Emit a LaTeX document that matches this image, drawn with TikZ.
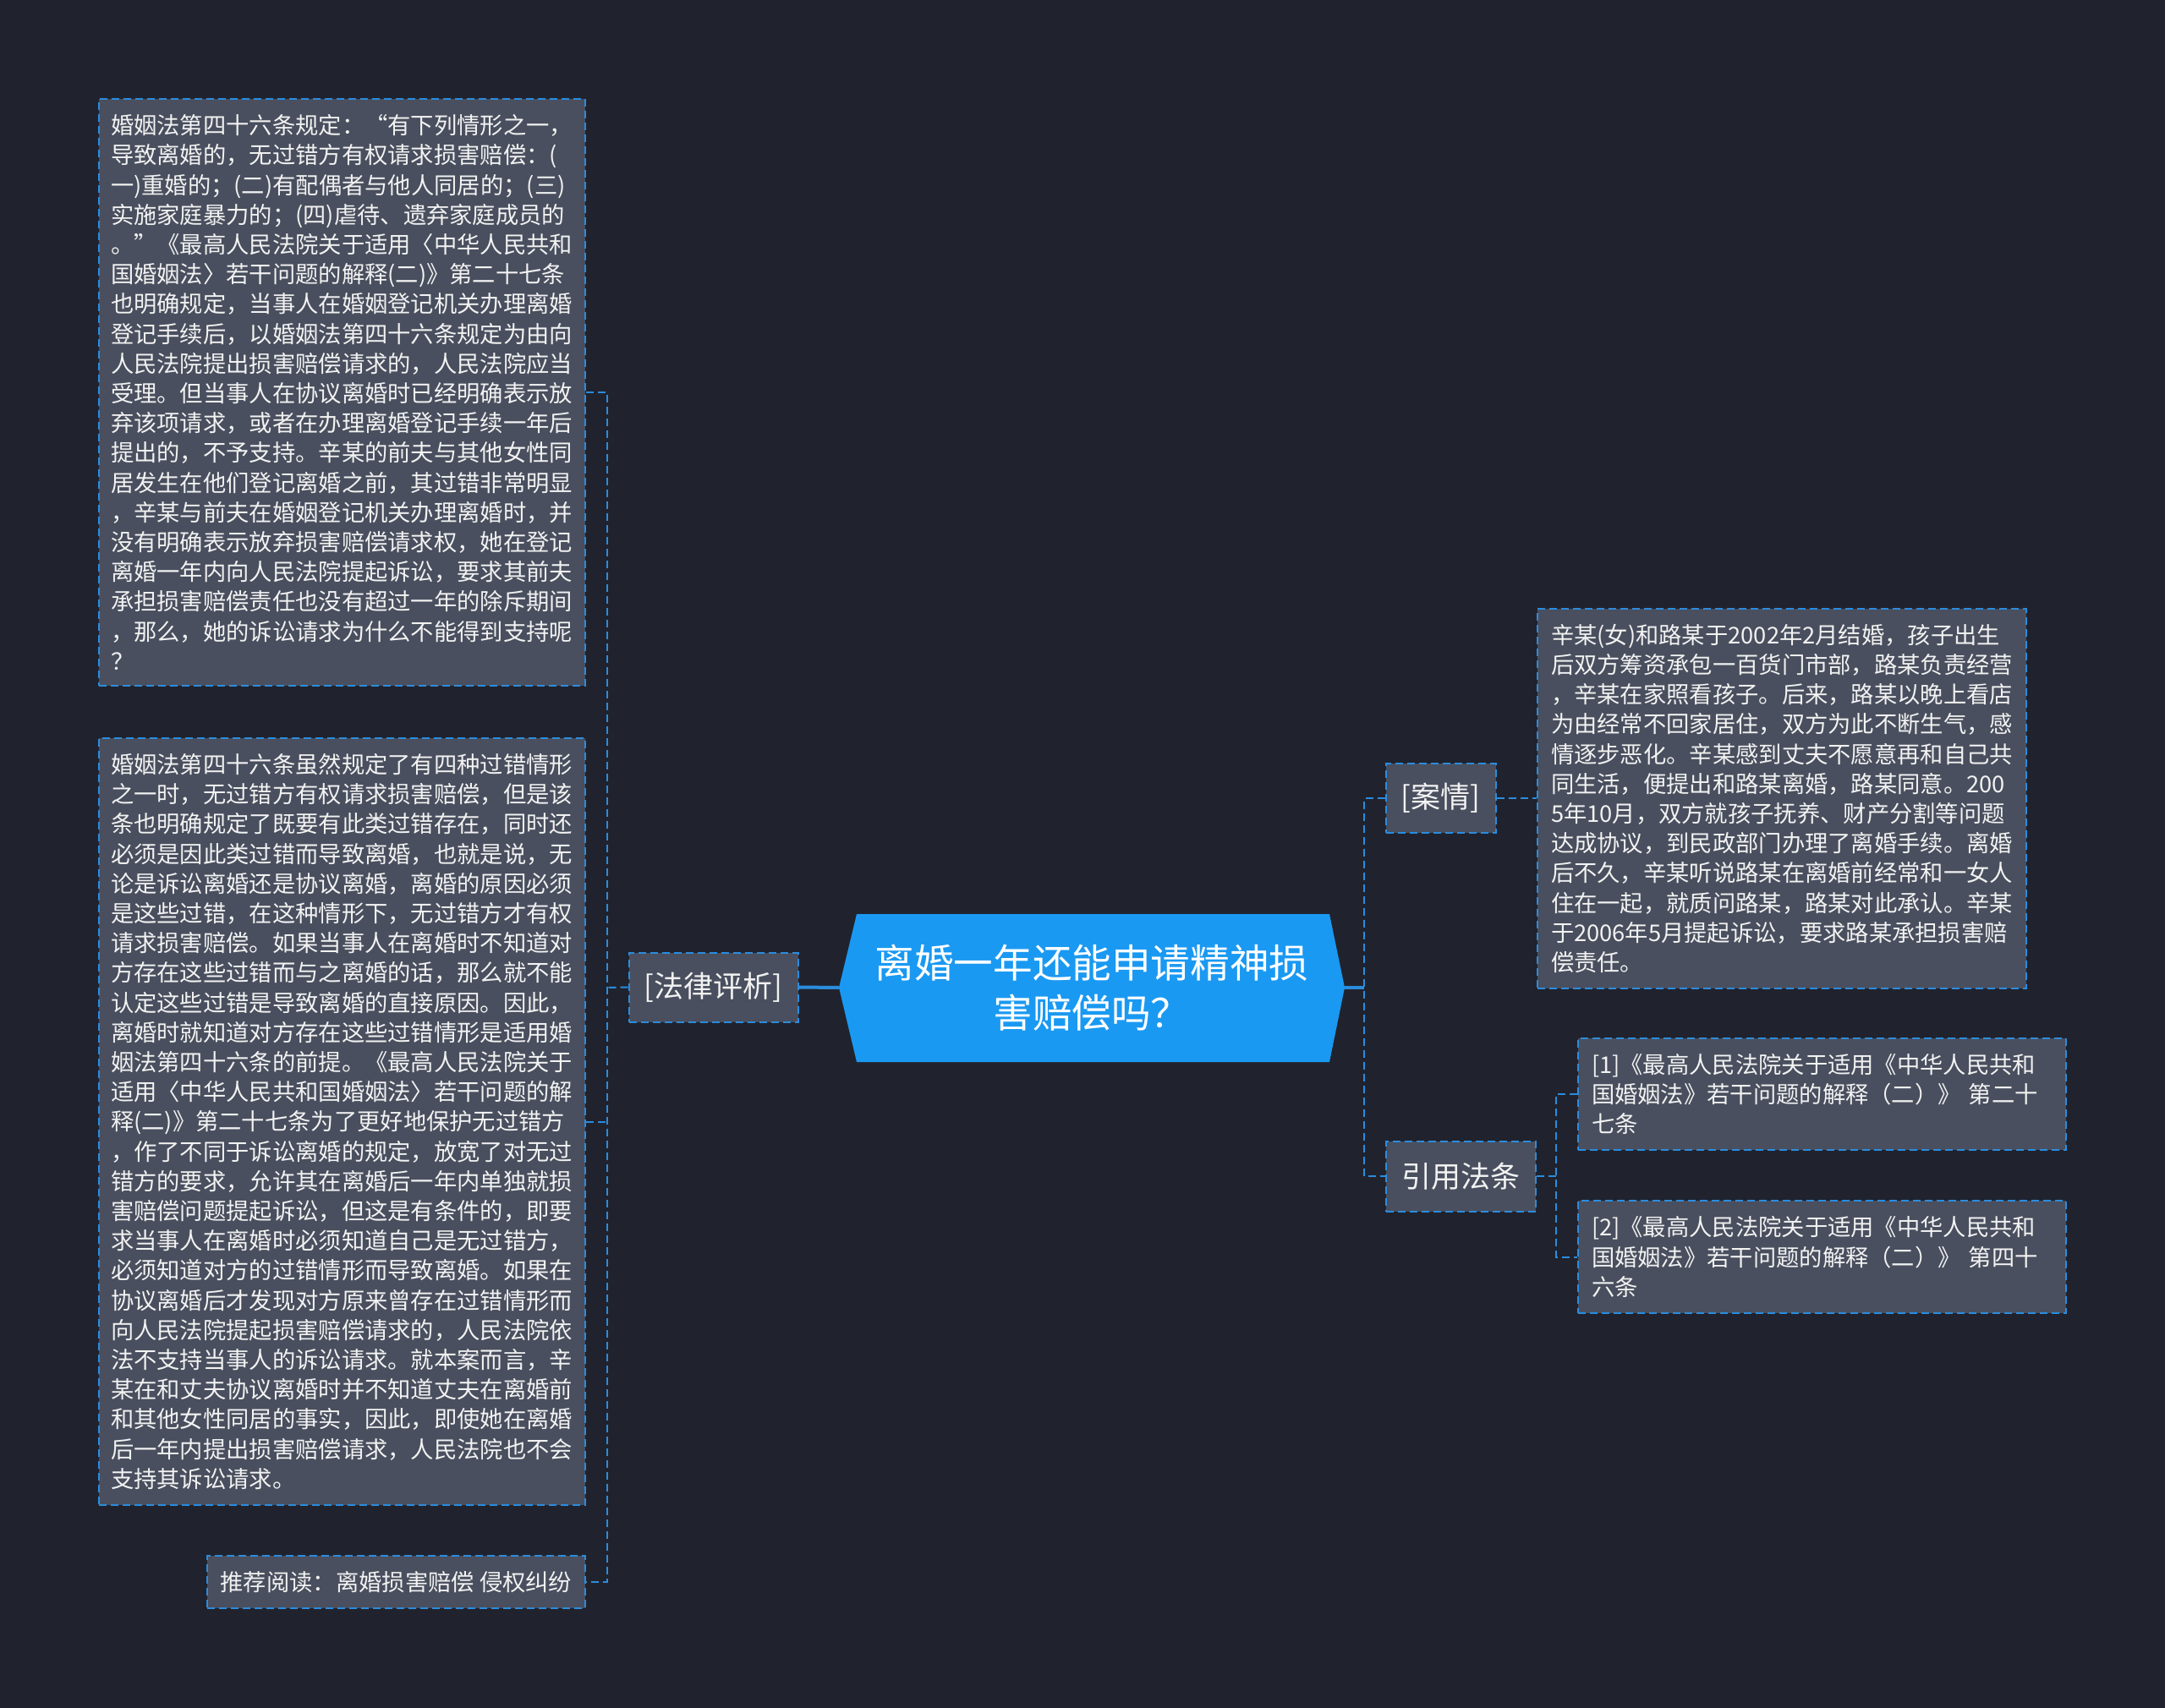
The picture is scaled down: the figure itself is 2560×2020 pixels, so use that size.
\documentclass[tikz,border=0pt]{standalone}
\usepackage{fontspec}
\setmainfont{Noto Sans CJK SC}
\definecolor{bgc}{RGB}{32,35,46}
\definecolor{boxc}{RGB}{73,79,94}
\definecolor{bordc}{RGB}{43,140,222}
\definecolor{centc}{RGB}{26,153,242}
\definecolor{txtc}{RGB}{242,242,242}
\tikzset{
  leaf/.style={draw=bordc, fill=boxc, line width=2pt, dash pattern=on 9pt off 5pt,
    text=txtc, font=\fontsize{27.3pt}{35.2pt}\selectfont, align=left, inner sep=0pt, anchor=center},
  mid/.style={draw=bordc, fill=boxc, line width=2pt, dash pattern=on 9pt off 5pt,
    text=txtc, font=\fontsize{35pt}{42pt}\selectfont, align=center, inner sep=0pt, anchor=center},
  conn/.style={draw=bordc, line width=2pt, dash pattern=on 9pt off 5pt},
  solidconn/.style={draw=bordc, line width=4pt}
}
\begin{document}
\begin{tikzpicture}[x=1pt,y=-1pt]
\fill[bgc] (0,0) rectangle (2560,2020);
\useasboundingbox (0,0) rectangle (2560,2020);

% center node
\coordinate (cTL) at (1013,1081);
\coordinate (cTR) at (1572,1081);
\coordinate (cR) at (1590,1168);
\coordinate (cBR) at (1572,1256);
\coordinate (cBL) at (1013,1256);
\coordinate (cL) at (992,1168);
\fill[centc] (cTL) -- (cTR) -- (cR) -- (cBR) -- (cBL) -- (cL) -- cycle;
\node[text=white, font=\fontsize{46.6pt}{59pt}\selectfont, align=center] (ctr) at (1291,1168)
  {离婚一年还能申请精神损\\害赔偿吗？};

% level 1
\node[mid, minimum width=200pt, minimum height=82pt] (pf) at (843.5,1167.5) {[法律评析]};
\node[mid, minimum width=130pt, minimum height=82pt] (an) at (1703.5,944) {[案情]};
\node[mid, minimum width=177pt, minimum height=83pt] (yy) at (1727,1391) {引用法条};

% left leaves
\node[leaf, minimum width=575pt, minimum height=694pt, text width=547pt] (t1) at (404.5,464) {%
婚姻法第四十六条规定：“有下列情形之一，\\
导致离婚的，无过错方有权请求损害赔偿：(\\
一)重婚的；(二)有配偶者与他人同居的；(三)\\
实施家庭暴力的；(四)虐待、遗弃家庭成员的\\
。”《最高人民法院关于适用〈中华人民共和\\
国婚姻法〉若干问题的解释(二)》第二十七条\\
也明确规定，当事人在婚姻登记机关办理离婚\\
登记手续后，以婚姻法第四十六条规定为由向\\
人民法院提出损害赔偿请求的，人民法院应当\\
受理。但当事人在协议离婚时已经明确表示放\\
弃该项请求，或者在办理离婚登记手续一年后\\
提出的，不予支持。辛某的前夫与其他女性同\\
居发生在他们登记离婚之前，其过错非常明显\\
，辛某与前夫在婚姻登记机关办理离婚时，并\\
没有明确表示放弃损害赔偿请求权，她在登记\\
离婚一年内向人民法院提起诉讼，要求其前夫\\
承担损害赔偿责任也没有超过一年的除斥期间\\
，那么，她的诉讼请求为什么不能得到支持呢\\
？};

\node[leaf, minimum width=575pt, minimum height=907pt, text width=547pt] (t2) at (404.5,1326.5) {%
婚姻法第四十六条虽然规定了有四种过错情形\\
之一时，无过错方有权请求损害赔偿，但是该\\
条也明确规定了既要有此类过错存在，同时还\\
必须是因此类过错而导致离婚，也就是说，无\\
论是诉讼离婚还是协议离婚，离婚的原因必须\\
是这些过错，在这种情形下，无过错方才有权\\
请求损害赔偿。如果当事人在离婚时不知道对\\
方存在这些过错而与之离婚的话，那么就不能\\
认定这些过错是导致离婚的直接原因。因此，\\
离婚时就知道对方存在这些过错情形是适用婚\\
姻法第四十六条的前提。《最高人民法院关于\\
适用〈中华人民共和国婚姻法〉若干问题的解\\
释(二)》第二十七条为了更好地保护无过错方\\
，作了不同于诉讼离婚的规定，放宽了对无过\\
错方的要求，允许其在离婚后一年内单独就损\\
害赔偿问题提起诉讼，但这是有条件的，即要\\
求当事人在离婚时必须知道自己是无过错方，\\
必须知道对方的过错情形而导致离婚。如果在\\
协议离婚后才发现对方原来曾存在过错情形而\\
向人民法院提起损害赔偿请求的，人民法院依\\
法不支持当事人的诉讼请求。就本案而言，辛\\
某在和丈夫协议离婚时并不知道丈夫在离婚前\\
和其他女性同居的事实，因此，即使她在离婚\\
后一年内提出损害赔偿请求，人民法院也不会\\
支持其诉讼请求。};

\node[leaf, minimum width=447pt, minimum height=62pt, align=center] (t3) at (468.5,1871) {推荐阅读：离婚损害赔偿 侵权纠纷};

% right leaves
\node[leaf, minimum width=578pt, minimum height=449pt, text width=546pt] (cs) at (2107,944.5) {%
辛某(女)和路某于2002年2月结婚，孩子出生\\
后双方筹资承包一百货门市部，路某负责经营\\
，辛某在家照看孩子。后来，路某以晚上看店\\
为由经常不回家居住，双方为此不断生气，感\\
情逐步恶化。辛某感到丈夫不愿意再和自己共\\
同生活，便提出和路某离婚，路某同意。200\\
5年10月，双方就孩子抚养、财产分割等问题\\
达成协议，到民政部门办理了离婚手续。离婚\\
后不久，辛某听说路某在离婚前经常和一女人\\
住在一起，就质问路某，路某对此承认。辛某\\
于2006年5月提起诉讼，要求路某承担损害赔\\
偿责任。};

\node[leaf, minimum width=577pt, minimum height=132pt, text width=545pt] (c1) at (2154.5,1294) {%
[1]《最高人民法院关于适用《中华人民共和\\
国婚姻法》若干问题的解释（二）》 第二十\\
七条};
\node[leaf, minimum width=577pt, minimum height=133pt, text width=545pt] (c2) at (2154.5,1486.5) {%
[2]《最高人民法院关于适用《中华人民共和\\
国婚姻法》若干问题的解释（二）》 第四十\\
六条};

% connectors left
\coordinate (jL) at (718,1168);
\draw[solidconn] (cL) -- (pf.east);
\draw[conn] (pf.west) -- (jL);
\draw[conn] (t1.east) -- (t1.east -| jL) -- (t3.east -| jL) -- (t3.east);
\draw[conn] (t2.east) -- (t2.east -| jL);

% connectors right
\coordinate (jR) at (1613,1168);
\draw[solidconn] (cR) -- (jR);
\draw[conn] (an.west) -- (an.west -| jR) -- (yy.west -| jR) -- (yy.west);
\draw[conn] (an.east) -- (an.east -| cs.west);

\coordinate (jC) at (1840,1391);
\draw[conn] (yy.east) -- (jC);
\draw[conn] (c1.west) -- (c1.west -| jC) -- (c2.west -| jC) -- (c2.west);
\end{tikzpicture}
\end{document}
